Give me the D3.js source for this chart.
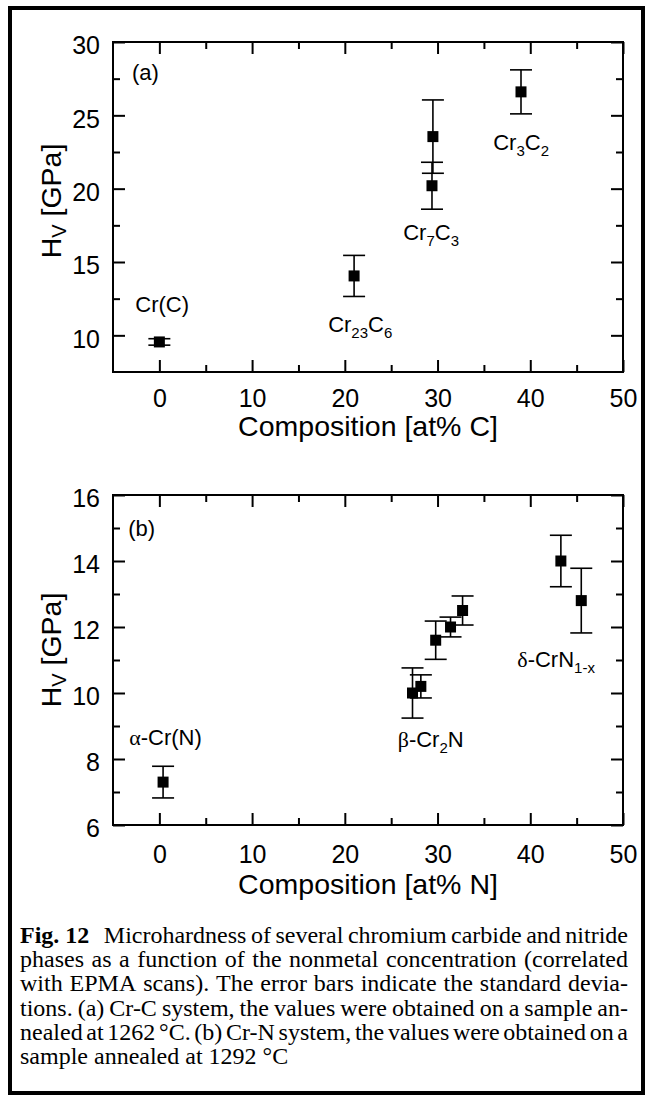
<!DOCTYPE html>
<html>
<head>
<meta charset="utf-8">
<script src="https://cdn.jsdelivr.net/npm/d3@7"></script>
<style>
  body { margin: 0; background: #fff; }
  svg { display: block; }
  .tick text { font-family: "Liberation Sans", Arial, Helvetica, sans-serif; font-size: 25px; fill: #000; }
  .tick line { stroke: #000; stroke-width: 2; }
  .lbl { font-family: "Liberation Sans", Arial, Helvetica, sans-serif; font-size: 22px; fill: #000; }
  .ttl { font-family: "Liberation Sans", Arial, Helvetica, sans-serif; font-size: 28.5px; fill: #000; }
  .cap { font-family: "Liberation Serif", "Times New Roman", serif; font-size: 24px; fill: #000; }
</style>
</head>
<body>
<div id="fig"></div>
<script>
// panel (a): Cr-C system
const carbonX   = [0, 21.0, 29.5, 29.4, 39.0];
const carbonHv  = [9.55, 14.05, 23.55, 20.2, 26.6];
const carbonErr = [0.22, 1.4, 2.5, 1.6, 1.5];

// panel (b): Cr-N system
const nitrogenX   = [0.4, 27.3, 28.2, 29.8, 31.4, 32.7, 43.3, 45.5];
const nitrogenHv  = [7.3, 10.0, 10.2, 11.6, 12.0, 12.5, 14.0, 12.8];
const nitrogenErr = [0.48, 0.76, 0.35, 0.58, 0.3, 0.44, 0.78, 0.98];

const xTicks = [0, 10, 20, 30, 40, 50];
const xMinor = [5, 15, 25, 35, 45];
const carbonTicks = [10, 15, 20, 25, 30];
const carbonMinor = [12.5, 17.5, 22.5, 27.5];
const nitrogenTicks = [6, 8, 10, 12, 14, 16];
const nitrogenMinor = [7, 9, 11, 13, 15];

// phase labels, anchored in data units; parts are [text, kind]
const carbonLabels = [
  { parts: [["(a)"]], x: -2.95, y: 27.4 },
  { parts: [["Cr(C)"]], x: -2.6, y: 11.6 },
  { parts: [["Cr"], ["23", "sub"], ["C"], ["6", "sub"]], x: 18.2, y: 10.25 },
  { parts: [["Cr"], ["7", "sub"], ["C"], ["3", "sub"]], x: 26.3, y: 16.5 },
  { parts: [["Cr"], ["3", "sub"], ["C"], ["2", "sub"]], x: 36.0, y: 22.65 }
];
const nitrogenLabels = [
  { parts: [["(b)"]], x: -3.35, y: 14.75 },
  { parts: [["α", "greek"], ["-Cr(N)"]], x: -3.25, y: 8.42 },
  { parts: [["β", "greek"], ["-Cr"], ["2", "sub"], ["N"]], x: 25.7, y: 8.36 },
  { parts: [["δ", "greek"], ["-CrN"], ["1-x", "sub"]], x: 38.6, y: 10.8 }
];

const captionBold = "Fig. 12";
const captionLines = [
  "Microhardness of several chromium carbide and nitride",
  "phases as a function of the nonmetal concentration (correlated",
  "with EPMA scans). The error bars indicate the standard devia-",
  "tions. (a) Cr-C system, the values were obtained on a sample an-",
  "nealed at 1262 °C. (b) Cr-N system, the values were obtained on a",
  "sample annealed at 1292 °C"
];

const width = 649, height = 1100;
const left = 113, right = 623, plotH = 330;

const svg = d3.select("#fig").append("svg")
    .attr("width", width)
    .attr("height", height);

// outer border
svg.append("rect")
    .attr("x", 10).attr("y", 8)
    .attr("width", 633).attr("height", 1085)
    .attr("fill", "none")
    .attr("stroke", "#000")
    .attr("stroke-width", 4);

const panels = [
  { top: 42, yDomain: [7.5, 30], yTicks: carbonTicks, yMinor: carbonMinor,
    xs: carbonX, ys: carbonHv, errs: carbonErr, labels: carbonLabels,
    xPad: 17, xTitleY: 436, yTitleY: 201, xTitle: "Composition [at% C]" },
  { top: 495, yDomain: [6, 16], yTicks: nitrogenTicks, yMinor: nitrogenMinor,
    xs: nitrogenX, ys: nitrogenHv, errs: nitrogenErr, labels: nitrogenLabels,
    xPad: 20, xTitleY: 894, yTitleY: 650, xTitle: "Composition [at% N]" }
];

panels.forEach(p => drawPanel(p));

function drawPanel(p) {
  const bottom = p.top + plotH;
  const x = d3.scaleLinear().domain([-5, 50]).range([left, right]);
  const y = d3.scaleLinear().domain(p.yDomain).range([bottom, p.top]);
  const g = svg.append("g");

  // major + minor ticks on all four sides, pointing inward
  const addAxis = (axis, tx, ty, vals, len, labelled, pad) => {
    const a = axis.tickValues(vals).tickSize(-len).tickPadding(pad || 0);
    if (!labelled) a.tickFormat("");
    return g.append("g")
        .attr("transform", `translate(${tx},${ty})`)
        .call(a)
        .call(s => s.select(".domain").remove());
  };
  addAxis(d3.axisBottom(x), 0, bottom, xTicks, 12, true, p.xPad);
  addAxis(d3.axisBottom(x), 0, bottom, xMinor, 7, false);
  addAxis(d3.axisTop(x), 0, p.top, xTicks, 12, false);
  addAxis(d3.axisTop(x), 0, p.top, xMinor, 7, false);
  addAxis(d3.axisLeft(y), left, 0, p.yTicks, 12, true, 13)
      .selectAll("text").attr("dy", "0.47em");
  addAxis(d3.axisLeft(y), left, 0, p.yMinor, 7, false);
  addAxis(d3.axisRight(y), right, 0, p.yTicks, 12, false);
  addAxis(d3.axisRight(y), right, 0, p.yMinor, 7, false);

  g.append("rect")
      .attr("x", left).attr("y", p.top)
      .attr("width", right - left).attr("height", plotH)
      .attr("fill", "none")
      .attr("stroke", "#000")
      .attr("stroke-width", 2);

  // error bars
  const pts = p.xs.map((v, i) => ({ x: v, y: p.ys[i], e: p.errs[i] }));
  const eb = g.selectAll(".err").data(pts).join("g")
      .attr("stroke", "#000").attr("stroke-width", 1.6);
  eb.append("line")
      .attr("x1", d => x(d.x)).attr("x2", d => x(d.x))
      .attr("y1", d => y(d.y + d.e)).attr("y2", d => y(d.y - d.e));
  eb.append("line")
      .attr("x1", d => x(d.x) - 11).attr("x2", d => x(d.x) + 11)
      .attr("y1", d => y(d.y + d.e)).attr("y2", d => y(d.y + d.e));
  eb.append("line")
      .attr("x1", d => x(d.x) - 11).attr("x2", d => x(d.x) + 11)
      .attr("y1", d => y(d.y - d.e)).attr("y2", d => y(d.y - d.e));

  g.selectAll(".pt").data(pts).join("rect")
      .attr("x", d => x(d.x) - 5.5)
      .attr("y", d => y(d.y) - 5.5)
      .attr("width", 11).attr("height", 11)
      .attr("fill", "#000");

  p.labels.forEach(lab => {
    const t = g.append("text").attr("class", "lbl")
        .attr("x", x(lab.x)).attr("y", y(lab.y));
    let shift = 0;
    lab.parts.forEach(([s, kind]) => {
      const want = kind === "sub" ? 6 : 0;
      const ts = t.append("tspan").attr("dy", want - shift).text(s);
      shift = want;
      if (kind === "sub") ts.attr("font-size", 15);
      if (kind === "greek") ts.attr("font-family", "'Liberation Serif', 'Times New Roman', serif");
    });
  });

  // axis titles
  g.append("text").attr("class", "ttl")
      .attr("x", (left + right) / 2).attr("y", p.xTitleY)
      .attr("text-anchor", "middle")
      .text(p.xTitle);

  const yt = g.append("text").attr("class", "ttl")
      .attr("transform", `translate(61,${p.yTitleY}) rotate(-90)`)
      .attr("text-anchor", "middle");
  yt.append("tspan").text("H");
  yt.append("tspan").attr("font-size", 20).attr("dy", 5).text("V");
  yt.append("tspan").attr("dy", -5).text(" [GPa]");
}

// caption, justified between x0 and x1
const x0 = 20, x1 = 628;
const capG = svg.append("g");
captionLines.forEach((line, i) => {
  const yy = 943 + i * 24.2;
  const toks = [];
  if (i === 0) toks.push({ s: captionBold, bold: true });
  line.split(" ").forEach(w => toks.push({ s: w }));
  const nodes = toks.map(t => {
    const el = capG.append("text").attr("class", "cap").attr("y", yy).text(t.s);
    if (t.bold) el.attr("font-weight", "bold");
    return { el, w: el.node().getComputedTextLength() };
  });
  const total = d3.sum(nodes, d => d.w);
  const extra = i === 0 ? 10 : 0;
  const last = i === captionLines.length - 1;
  const gap = last ? 6 : (x1 - x0 - total - extra) / (nodes.length - 1);
  let cx = x0;
  nodes.forEach((n, k) => {
    n.el.attr("x", cx);
    cx += n.w + gap + (k === 0 ? extra : 0);
  });
});
</script>
</body>
</html>
